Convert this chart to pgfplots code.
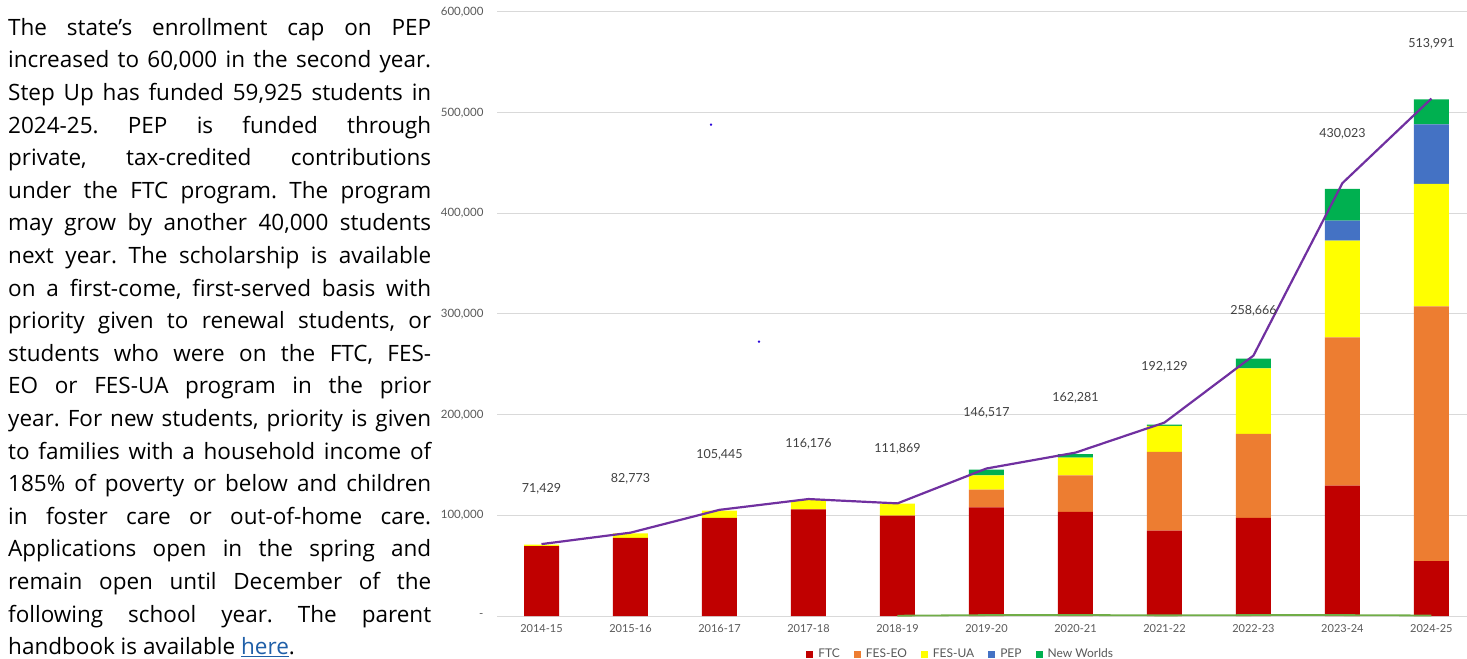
\documentclass[border=0pt]{standalone}
\usepackage{fontspec}
\setmainfont{Lato}
\newfontfamily\parafont{Open Sans}
\usepackage{pgfplots}
\usepackage{pgfplotstable}
\pgfplotsset{compat=1.18}

\definecolor{ftc}{HTML}{C00000}
\definecolor{feseo}{HTML}{ED7D31}
\definecolor{fesua}{HTML}{FFFF00}
\definecolor{pep}{HTML}{4472C4}
\definecolor{nw}{HTML}{00B050}
\definecolor{totline}{HTML}{7030A0}
\definecolor{greenline}{HTML}{70AD47}
\definecolor{gridgray}{HTML}{D9D9D9}
\definecolor{tickgray}{HTML}{595959}
\definecolor{labgray}{HTML}{404040}
\definecolor{linkblue}{HTML}{1F5FA8}

% stacked bar segments per school year
\pgfplotstableread{
x  ftc    eo     ua     pep   nw
0  69300  0      1600   0     0
1  77700  0      4500   0     0
2  97500  0      7300   0     0
3  105800 0      9200   0     0
4  99800  0      11900  0     0
5  108000 17600  14200  0     5700
6  103500 36300  17600  0     3300
7  84900  78100  25900  0     1300
8  97500  83400  65200  0     9600
9  129600 147300 96000  19800 31500
10 54400  253200 121600 59200 24800
}\bars

% totals line and where its labels sit
\pgfplotstableread{
x  total  laby   label
0  71429  126300 {71,429}
1  82773  136500 {82,773}
2  105445 160400 {105,445}
3  116176 171000 {116,176}
4  111869 166000 {111,869}
5  146517 201800 {146,517}
6  162281 216700 {162,281}
7  192129 247500 {192,129}
8  258666 303400 {258,666}
9  430023 478800 {430,023}
10 513991 568800 {513,991}
}\totals

\pgfplotstableread{
x  y
4  300
5  900
6  1000
7  600
8  900
9  900
10 500
}\greenzero

\pgfplotsset{
  frame/.style={
    scale only axis,
    width=970bp, height=604bp,
    at={(497bp,43bp)}, anchor=south west,
    xmin=-0.5, xmax=10.4,
    ymin=0, ymax=600000,
    axis line style={draw=none},
    major tick length=0pt,
    clip=false,
  },
}

\begin{document}
\begin{tikzpicture}
\useasboundingbox (0,0) rectangle (1467bp,659bp);

\node[anchor=north west, inner sep=0pt, text width=423bp, align=justify,
      font=\parafont\fontsize{22.5bp}{32.6bp}\selectfont] at (8bp,659bp-18bp) {\frenchspacing
The state’s enrollment cap on PEP\linebreak
increased to 60,000 in the second year.\linebreak
Step Up has funded 59,925 students in\linebreak
2024-25. PEP is funded through\linebreak
private, tax-credited contributions\linebreak
under the FTC program. The program\linebreak
may grow by another 40,000 students\linebreak
next year. The scholarship is available\linebreak
on a first-come, first-served basis with\linebreak
priority given to renewal students, or\linebreak
students who were on the FTC, FES-\linebreak
EO or FES-UA program in the prior\linebreak
year. For new students, priority is given\linebreak
to families with a household income of\linebreak
185\% of poverty or below and children\linebreak
in foster care or out-of-home care.\linebreak
Applications open in the spring and\linebreak
remain open until December of the\linebreak
following school year. The parent\linebreak
handbook is available {\color{linkblue}\underline{here}}.\par};

\begin{axis}[
  frame,
  ybar stacked,
  bar width=35bp,
  ymajorgrids,
  grid style={gridgray, line width=1bp},
  xtick={0,...,10},
  xticklabels={2014-15,2015-16,2016-17,2017-18,2018-19,2019-20,2020-21,2021-22,2022-23,2023-24,2024-25},
  xticklabel style={font=\fontsize{11bp}{12bp}\selectfont, text=tickgray, yshift=-5bp},
  ytick={0,100000,...,600000},
  yticklabels={{-\hspace{8bp}},{100,000},{200,000},{300,000},{400,000},{500,000},{600,000}},
  yticklabel style={font=\fontsize{11.5bp}{12bp}\selectfont, text=tickgray, xshift=-10bp},
  legend style={at={(0.478,-0.063)}, anchor=center, legend columns=-1, draw=none,
    font=\fontsize{12bp}{13bp}\selectfont, text=tickgray,
    /tikz/every odd column/.append style={column sep=3bp},
    /tikz/every even column/.append style={column sep=12bp}},
  legend image code/.code={\fill[#1] (0bp,-3.5bp) rectangle (7bp,3.5bp);},
]
\addplot[fill=ftc, draw=none] table[x=x, y=ftc]{\bars};
\addplot[fill=feseo, draw=none] table[x=x, y=eo]{\bars};
\addplot[fill=fesua, draw=none] table[x=x, y=ua]{\bars};
\addplot[fill=pep, draw=none] table[x=x, y=pep]{\bars};
\addplot[fill=nw, draw=none] table[x=x, y=nw]{\bars};
\legend{FTC, FES-EO, FES-UA, PEP, New Worlds}
\end{axis}

\begin{axis}[
  frame,
  xtick=\empty, ytick=\empty,
]
\addplot[greenline, line width=1.8bp] table[x=x, y=y]{\greenzero};
\addplot[totline, line width=2.2bp] table[x=x, y=total]{\totals};
\addplot[draw=none, mark=none, nodes near coords, point meta=explicit symbolic,
  nodes near coords style={anchor=center, font=\fontsize{12.5bp}{14bp}\selectfont, text=labgray}]
  table[x=x, y=laby, meta=label]{\totals};
\addplot[only marks, mark=*, mark size=1bp, color=blue!70!violet] coordinates {(1.905,488100) (2.444,272600)};
\end{axis}
\end{tikzpicture}
\end{document}
